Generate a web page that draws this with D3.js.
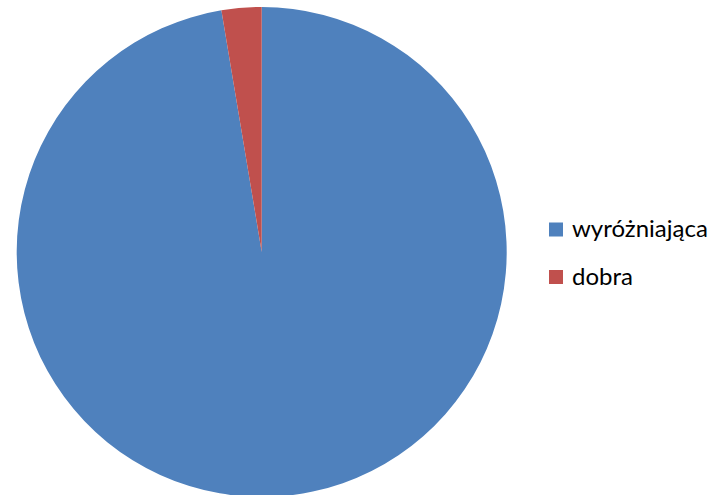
<!DOCTYPE html>
<html><head><meta charset="utf-8">
<script src="https://cdn.jsdelivr.net/npm/d3@7"></script>
<style>html,body{margin:0;padding:0;background:#fff;}</style>
</head><body>
<svg id="c" width="728" height="495"></svg>
<script>
const categories = ["wyróżniająca", "dobra"];
const values = [37, 1];
const colors = ["#4F81BD", "#C0504D"];

const svg = d3.select("#c");
const cx = 261.7, cy = 252, r = 245;
const pie = d3.pie().sort(null).value(d => d.v);
const arc = d3.arc().innerRadius(0).outerRadius(r);
const data = categories.map((c, i) => ({c, v: values[i], col: colors[i]}));
svg.append("g").attr("transform", `translate(${cx},${cy})`)
  .selectAll("path").data(pie(data)).enter().append("path")
  .attr("d", arc).attr("fill", d => d.data.col);

const lg = svg.append("g");
const ys = [229.5, 277];
data.forEach((d, i) => {
  lg.append("rect").attr("x", 549).attr("y", ys[i] - 7).attr("width", 14).attr("height", 14).attr("fill", d.col);
  lg.append("text").attr("x", 572).attr("y", ys[i] + 7.5)
    .attr("font-family", "Lato, sans-serif").attr("font-size", 24).attr("fill", "#000")
    .text(d.c);
});
</script>
</body></html>
